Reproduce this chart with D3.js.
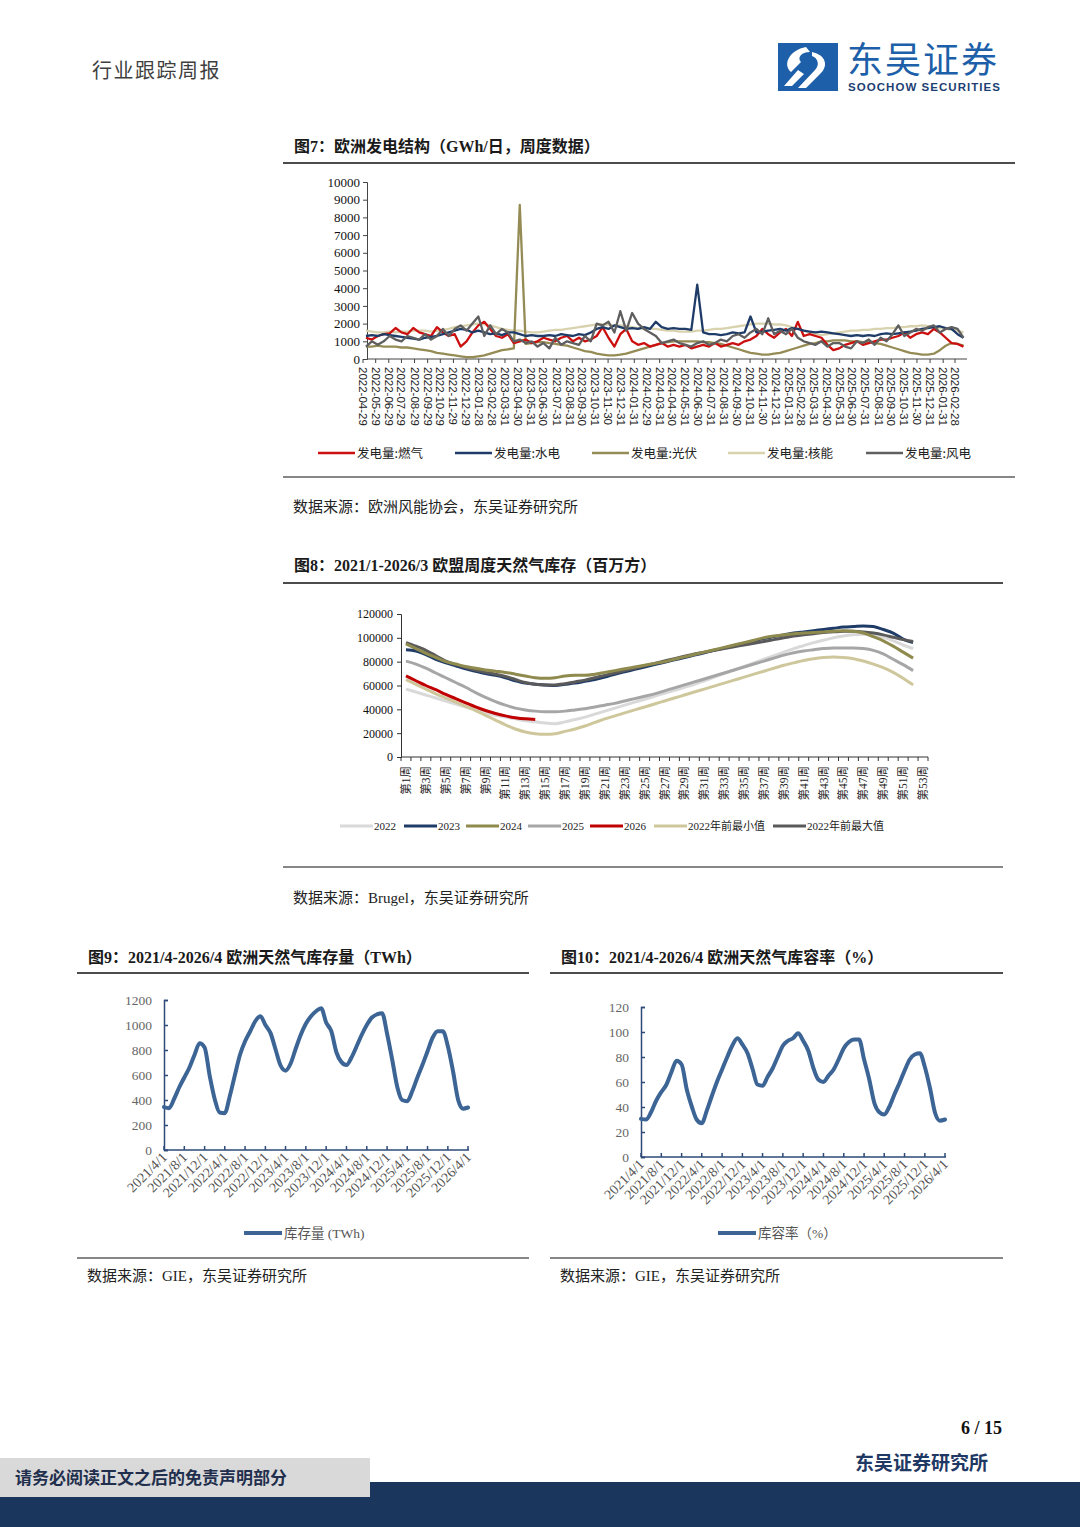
<!DOCTYPE html>
<html><head><meta charset="utf-8">
<script src="https://cdn.jsdelivr.net/npm/d3@7"></script>
<style>body{margin:0;background:#fff} svg{display:block}</style>
</head><body>
<svg id="page" width="1080" height="1527"></svg>
<script>
// ---------------- DATA ----------------
// Fig 7: European generation structure (GWh/day, weekly data), sampled every two weeks from 2022-05-06
const genStart = "2022-05-06";
const genStepDays = 14;
const gasGen = [1200,1100,1300,1400,1450, 1750,1500,1400,1750,1500, 1400,1300,1800,1500,1300, 1400,700,1000,1500,1900,
  2100,1700,1300,1200,1400, 900,1000,1100,900,1000, 1200,1100,1000,1200,1300, 1000,1200,1000,1100,1300,
  1800,1200,700,1400,1700, 1000,800,900,700,800, 900,700,800,700,800, 600,700,800,700,900,
  700,800,900,800,1000, 1100,1300,1700,1400,1200, 1500,1700,1300,2100,1300, 1400,1300,1200,800,500,
  600,800,900,1000,800, 900,1000,1100,1100,1200, 1300,1500,1200,1400,1500, 1400,1700,1500,1200,900, 850,700];
const hydroGen = [1300,1350,1300,1400,1350, 1300,1250,1200,1150,1100, 1200,1250,1300,1400,1500, 1600,1700,1650,1500,1600,
  1500,1400,1450,1350,1500, 1500,1400,1300,1350,1300, 1300,1350,1300,1400,1350, 1300,1400,1350,1500,1700,
  1800,1700,1900,1800,1700, 1750,1700,1800,1700,2100, 1800,1700,1750,1700,1700, 1650,4200,1500,1400,1400,
  1350,1400,1500,1450,1500, 2400,1500,1550,1600,1650, 1700,1600,1750,1700,1600, 1550,1500,1550,1500,1450,
  1400,1350,1300,1350,1300, 1350,1300,1400,1450,1400, 1450,1500,1550,1600,1700, 1750,1800,1850,1750,1700, 1400,1200];
const solarGen = [700,700,750,700,700, 700,650,650,600,550, 500,450,350,300,250, 200,150,100,100,150,
  200,300,400,500,550, 600,8700,850,900,950, 950,900,850,800,750, 650,550,450,400,300,
  250,200,200,250,300, 400,500,600,700,800, 900,950,1000,1000,1000, 1000,1000,950,950,900,
  850,750,650,550,450, 350,300,250,250,300, 350,450,550,650,750, 850,900,1000,1000,1050,
  1050,1050,1000,1000,950, 950,900,850,750,650, 550,450,350,300,250, 250,300,500,750,900, 850,750];
const nuclearGen = [1600,1550,1500,1500,1550, 1500,1550,1550,1600,1600, 1600,1550,1600,1650,1700, 1800,1850,1900,1950,2000,
  1950,1900,1800,1700,1650, 1600,1600,1550,1500,1500, 1550,1600,1650,1650,1700, 1750,1800,1850,1900,1950,
  1950,1950,1900,1900,1850, 1800,1750,1700,1700,1700, 1650,1600,1600,1550,1550, 1550,1600,1600,1650,1700,
  1700,1750,1800,1850,1900, 1950,2000,2000,2000,1950, 1950,1900,1800,1700,1600, 1500,1400,1350,1400,1450,
  1500,1550,1600,1600,1650, 1650,1700,1700,1750,1750, 1800,1800,1850,1850,1900, 1850,1800,1750,1700,1650, 1600,1500];
const windGen = [700,1000,800,1000,1300, 1100,1000,1300,1200,1100, 1400,1100,1300,1700,1300, 1700,1900,1600,2000,2400,
  1300,1900,1400,1700,1500, 1000,1100,900,1000,700, 900,600,1200,800,1000, 900,800,1300,1000,2000,
  1900,2100,1500,2700,1600, 2600,2000,1700,1500,1300, 900,1000,1100,900,800, 700,900,1000,800,900,
  1100,1000,1300,1400,1200, 1500,1700,1400,2300,1400, 1600,1400,1700,1200,1000, 900,800,1000,700,900,
  900,700,600,1000,900, 1100,800,1200,1000,1400, 1900,1300,1500,1700,1600, 1800,1900,1500,1700,1800, 1700,1200];
const genTickLabels = ["2022-04-29","2022-05-29","2022-06-29","2022-07-29","2022-08-29","2022-09-29","2022-10-29","2022-11-29",
  "2022-12-29","2023-01-28","2023-02-28","2023-03-31","2023-04-30","2023-05-31","2023-06-30","2023-07-31","2023-08-31",
  "2023-09-30","2023-10-31","2023-11-30","2023-12-31","2024-01-31","2024-02-29","2024-03-31","2024-04-30","2024-05-31",
  "2024-06-30","2024-07-31","2024-08-31","2024-09-30","2024-10-31","2024-11-30","2024-12-31","2025-01-31","2025-02-28",
  "2025-03-31","2025-04-30","2025-05-31","2025-06-30","2025-07-31","2025-08-31","2025-09-30","2025-10-31","2025-11-30",
  "2025-12-31","2026-01-31","2026-02-28"];
const genSeriesNames = ["发电量:燃气","发电量:水电","发电量:光伏","发电量:核能","发电量:风电"];
const genTicksY = [0,1000,2000,3000,4000,5000,6000,7000,8000,9000,10000];

// Fig 8: EU weekly gas storage (million m3), weeks 1..53
const weeks = d3.range(1, 54);
const stor2022 = [57000,54500,52000,49500,47000,44500,42000,39500,37000,35000,33500,32000,30500,29500,28500,28000,29500,31500,33500,36000,
  38500,41000,43500,46000,48500,51000,53500,56000,58500,61000,64000,67000,70000,73000,76000,79000,82000,85000,88000,91000,
  93500,96000,98000,100000,101500,102500,103000,102500,100500,97500,94000,91000];
const stor2023 = [90000,89000,86000,82000,79000,76500,74000,72000,70000,68500,66500,64000,62000,61000,60500,60000,61000,62000,63500,65000,
  67000,69500,71500,73500,75500,77500,79500,81500,83500,85500,87500,89500,91500,93500,95500,97500,99500,101000,102500,104000,
  105000,106000,107000,108000,109000,109500,110000,109500,107000,104000,99000,96000];
const stor2024 = [95000,91000,87000,83500,80000,78000,76000,74500,73000,72000,71000,69500,68000,66500,66000,66500,68000,68500,68500,69500,
  71000,72500,74000,75500,77000,78500,80000,82000,84000,86000,88000,90000,92000,94000,96000,98000,100000,101500,102500,103500,
  104000,104500,105000,105500,106000,105500,104000,101000,97500,93000,88000,83000];
const stor2025 = [80500,78000,74500,70500,66500,62500,58500,54000,50000,46500,43500,41000,39500,38500,38000,38000,38500,39500,40500,42000,
  43500,45000,47000,49000,51000,53000,55500,58000,60500,63000,65500,68000,70500,73000,75500,78000,80500,83000,85500,87500,
  89000,90000,91000,91500,91500,91500,91000,89500,86500,82000,77500,72500];
const stor2026 = [68000,64000,60000,56500,52500,49000,45500,42000,39000,36500,34500,33000,32000,31500];
const storMinPre2022 = [65000,61000,57000,53000,49500,46000,42500,39000,35000,31000,27000,23500,21000,19500,19000,19500,21500,23500,26000,29000,
  32000,34500,37000,39500,42000,44500,47000,49500,52000,54500,57000,59500,62000,64500,67000,69500,72000,74500,77000,79000,
  81000,82500,83500,84000,83500,82500,80500,78000,75000,71000,66000,60500];
const storMaxPre2022 = [96000,93000,89500,85000,80500,77500,75000,73000,71000,69500,67500,65000,62500,61000,60500,60500,61500,63000,64500,66500,
  68500,70500,72500,74500,76500,78500,80500,82500,84500,86500,88000,89500,91000,92500,94000,95500,97000,98500,100000,101500,
  102500,103500,104500,105000,105500,105500,105000,104000,102500,100500,98500,97000];
const storSeriesNames = ["2022","2023","2024","2025","2026","2022年前最小值","2022年前最大值"];
const storTicksY = [0,20000,40000,60000,80000,100000,120000];

// Fig 9 / Fig 10: European gas storage (TWh) and fill rate (%), monthly from 2021-04-01
const euStart = "2021-04-01";
const euStorageTWh = [343,335,410,500,580,660,760,855,820,590,
  400,300,295,430,600,760,870,950,1030,1070,
  1000,935,800,680,635,690,810,920,1010,1070,
  1110,1135,1020,950,780,705,680,740,830,920,
  1000,1060,1085,1095,930,720,500,400,390,470,
  580,680,790,900,950,950,830,630,400,330,340];
const euFillRate = [30.5,30,36,45,52,58,68,77,74,54,
  40,30,27,37,49,60,70,80,89,95,
  90,83,70,58,57,64,71,80,89,93,
  95,99,93,85,71,62,60,65,70,78,
  87,92,94,94,78,62,43,36,34,40,
  50,59,69,78,82,83,72,55,35,29,30];
const euTickLabels = ["2021/4/1","2021/8/1","2021/12/1","2022/4/1","2022/8/1","2022/12/1","2023/4/1","2023/8/1",
  "2023/12/1","2024/4/1","2024/8/1","2024/12/1","2025/4/1","2025/8/1","2025/12/1","2026/4/1"];
const twhTicksY = [0,200,400,600,800,1000,1200];
const pctTicksY = [0,20,40,60,80,100,120];

// ---------------- DRAW ----------------
const svg = d3.select("#page");
const CJK = "'Noto Sans CJK SC','Noto Sans',sans-serif";
const SERIF = "'Liberation Serif','Times New Roman','Noto Sans CJK SC',serif";
const parseD = d3.timeParse("%Y-%m-%d");
const parseS = d3.timeParse("%Y/%m/%d");

// Header
svg.append("text").attr("x", 92).attr("y", 78).attr("font-family", CJK).attr("font-size", 20)
  .attr("fill", "#3f3f3f").attr("letter-spacing", 1.5).text("行业跟踪周报");
// Logo
const logo = svg.append("g");
logo.append("rect").attr("x", 778).attr("y", 43).attr("width", 60).attr("height", 48).attr("fill", "#1d5fa8");
logo.append("path").attr("d", "M806,47 C790,50 782,64 791,72 L801,62 C797,58 801,52 810,52 Z").attr("fill", "#fff");
logo.append("path").attr("d", "M812,52 C826,55 829,66 820,74 L806,88 L798,88 L815,70 C820,65 818,58 812,56 Z").attr("fill", "#fff");
logo.append("path").attr("d", "M798,70 L784,86 L792,86 L804,74 Z").attr("fill", "#fff");
svg.append("text").attr("x", 847).attr("y", 73).attr("font-family", CJK).attr("font-size", 36)
  .attr("fill", "#1d5fa8").attr("letter-spacing", 2).text("东吴证券");
svg.append("text").attr("x", 848).attr("y", 91).attr("font-family", "'Liberation Sans',Arial,sans-serif")
  .attr("font-size", 11.5).attr("font-weight", "bold").attr("fill", "#1d3f73").attr("textLength", 152)
  .text("SOOCHOW SECURITIES");

function frame(x0, x1, titleY, topY, botY, srcY, title, source) {
  svg.append("text").attr("x", x0 + 11).attr("y", titleY + 6).attr("font-family", SERIF).attr("font-weight", "bold")
    .attr("font-size", 16).attr("fill", "#1a1a1a").text(title);
  svg.append("line").attr("x1", x0).attr("x2", x1).attr("y1", topY).attr("y2", topY).attr("stroke", "#111").attr("stroke-width", 1.5);
  svg.append("line").attr("x1", x0).attr("x2", x1).attr("y1", botY).attr("y2", botY).attr("stroke", "#111").attr("stroke-width", 1.2);
  svg.append("text").attr("x", x0 + 10).attr("y", srcY + 6).attr("font-family", SERIF)
    .attr("font-size", 15).attr("fill", "#222").text(source);
}
frame(283, 1015, 146, 163, 477, 506, "图7：欧洲发电结构（GWh/日，周度数据）", "数据来源：欧洲风能协会，东吴证券研究所");
frame(283, 1003, 565, 583, 867, 897, "图8：2021/1-2026/3 欧盟周度天然气库存（百万方）", "数据来源：Brugel，东吴证券研究所");
frame(77, 529, 957, 973, 1258, 1275, "图9：2021/4-2026/4 欧洲天然气库存量（TWh）", "数据来源：GIE，东吴证券研究所");
frame(550, 1003, 957, 973, 1258, 1275, "图10：2021/4-2026/4 欧洲天然气库容率（%）", "数据来源：GIE，东吴证券研究所");

// ---------- Fig 7 ----------
{
  const g = svg.append("g");
  const x = d3.scaleTime().domain([parseD("2022-04-29"), parseD("2026-02-28")]).range([363, 955]);
  const y = d3.scaleLinear().domain([0, 10000]).range([359, 182]);
  const start = parseD(genStart);
  const dates = gasGen.map((_, i) => d3.timeDay.offset(start, genStepDays * i));
  const yAxis = g.append("g").attr("transform", "translate(367,0)")
    .call(d3.axisLeft(y).tickValues(genTicksY).tickSize(4).tickPadding(3).tickFormat(d3.format("d")));
  yAxis.select(".domain").attr("stroke", "#444");
  yAxis.selectAll(".tick line").attr("stroke", "#444");
  yAxis.selectAll("text").attr("font-family", SERIF).attr("font-size", 13).attr("fill", "#111");
  g.append("line").attr("x1", 367).attr("x2", 967).attr("y1", 359).attr("y2", 359).attr("stroke", "#444");
  const tickDates = genTickLabels.map(parseD);
  g.selectAll(".xt").data(tickDates).join("line").attr("x1", d => x(d)).attr("x2", d => x(d))
    .attr("y1", 359).attr("y2", 363).attr("stroke", "#444");
  g.selectAll(".xl").data(genTickLabels).join("text")
    .attr("transform", d => `translate(${x(parseD(d)) - 4},367) rotate(90)`)
    .attr("font-family", "'Liberation Sans',Arial,sans-serif").attr("font-size", 11.5).attr("fill", "#222")
    .text(d => d);
  const series = [
    { v: windGen, c: "#5f5f5f" },
    { v: nuclearGen, c: "#d8d2ae" },
    { v: solarGen, c: "#958c55" },
    { v: hydroGen, c: "#1f3c68" },
    { v: gasGen, c: "#cc1010" }
  ];
  const line = d3.line().x((d, i) => x(dates[i])).y(d => y(d));
  [series[1], series[2], series[4], series[3], series[0]].forEach(s => {
    g.append("path").attr("d", line(s.v)).attr("fill", "none").attr("stroke", s.c).attr("stroke-width", 2.3)
      .attr("stroke-linejoin", "round");
  });
  const legCols = ["#cc1010", "#1f3c68", "#958c55", "#d8d2ae", "#5f5f5f"];
  const legX = [318, 455, 592, 728, 866];
  genSeriesNames.forEach((n, i) => {
    g.append("line").attr("x1", legX[i]).attr("x2", legX[i] + 37).attr("y1", 453).attr("y2", 453)
      .attr("stroke", legCols[i]).attr("stroke-width", 2.5);
    g.append("text").attr("x", legX[i] + 39).attr("y", 458).attr("font-family", CJK).attr("font-size", 12.5)
      .attr("fill", "#222").text(n);
  });
}

// ---------- Fig 8 ----------
{
  const g = svg.append("g");
  const x = d3.scaleBand().domain(weeks).range([401, 928]);
  const y = d3.scaleLinear().domain([0, 120000]).range([757, 614]);
  const yAxis = g.append("g").attr("transform", "translate(401,0)")
    .call(d3.axisLeft(y).tickValues(storTicksY).tickSize(4).tickPadding(4).tickFormat(d3.format("d")));
  yAxis.select(".domain").attr("stroke", "#333");
  yAxis.selectAll(".tick line").attr("stroke", "#333");
  yAxis.selectAll("text").attr("font-family", SERIF).attr("font-size", 12).attr("fill", "#111");
  g.append("line").attr("x1", 401).attr("x2", 928).attr("y1", 757).attr("y2", 757).attr("stroke", "#333");
  g.selectAll(".xt").data(d3.range(0, 54)).join("line")
    .attr("x1", i => 401 + i * x.step()).attr("x2", i => 401 + i * x.step())
    .attr("y1", 757).attr("y2", 761).attr("stroke", "#333");
  g.selectAll(".xl").data(weeks.filter(w => w % 2 === 1)).join("text")
    .attr("transform", w => `translate(${x(w) + x.bandwidth() / 2 + 4},766) rotate(-90)`)
    .attr("text-anchor", "end").attr("font-family", SERIF).attr("font-size", 11.5).attr("fill", "#222")
    .text(w => `第${w}周`);
  const cols = ["#d9d9d9", "#1f3c68", "#8f8a4e", "#a6a6a6", "#c00000", "#cfc79c", "#5a5a5a"];
  const data = [stor2022, stor2023, stor2024, stor2025, stor2026, storMinPre2022, storMaxPre2022];
  const line = d3.line().x((d, i) => x(weeks[i]) + x.bandwidth() / 2).y(d => y(d)).curve(d3.curveMonotoneX);
  [0, 5, 3, 1, 6, 2, 4].forEach(k => {
    g.append("path").attr("d", line(data[k])).attr("fill", "none").attr("stroke", cols[k]).attr("stroke-width", 3)
      .attr("stroke-linejoin", "round");
  });
  const legX = [340, 404, 466, 528, 590, 654, 773];
  storSeriesNames.forEach((n, i) => {
    g.append("line").attr("x1", legX[i]).attr("x2", legX[i] + 33).attr("y1", 826).attr("y2", 826)
      .attr("stroke", cols[i]).attr("stroke-width", 3);
    g.append("text").attr("x", legX[i] + 34).attr("y", 830).attr("font-family", SERIF).attr("font-size", 11)
      .attr("fill", "#222").text(n);
  });
}

// ---------- Fig 9 & Fig 10 ----------
function euChart(x0, x1, yTop, yBot, ymax, ticks, values, legX, legText) {
  const g = svg.append("g");
  const axisCol = "#2d4a78";
  const start = parseD(euStart);
  const dates = values.map((_, i) => d3.timeMonth.offset(start, i));
  const x = d3.scaleTime().domain([parseS("2021/4/1"), parseS("2026/4/1")]).range([x0, x1]);
  const y = d3.scaleLinear().domain([0, ymax]).range([yBot, yTop]);
  const yAxis = g.append("g").attr("transform", `translate(${x0},0)`)
    .call(d3.axisLeft(y).tickValues(ticks).tickSize(-4).tickPadding(12).tickFormat(d3.format("d")));
  yAxis.select(".domain").attr("stroke", axisCol).attr("stroke-width", 1.5);
  yAxis.selectAll(".tick line").attr("stroke", axisCol).attr("stroke-width", 1.5);
  yAxis.selectAll("text").attr("font-family", SERIF).attr("font-size", 13.5).attr("fill", "#666");
  g.append("line").attr("x1", x0).attr("x2", x1 + 1).attr("y1", yBot).attr("y2", yBot).attr("stroke", axisCol).attr("stroke-width", 1.5);
  const tds = euTickLabels.map(parseS);
  g.selectAll(".xt").data(tds).join("line").attr("x1", d => x(d)).attr("x2", d => x(d))
    .attr("y1", yBot).attr("y2", yBot - 4).attr("stroke", axisCol).attr("stroke-width", 1.5);
  g.selectAll(".xl").data(euTickLabels).join("text")
    .attr("transform", d => `translate(${x(parseS(d)) + 4},${yBot + 8}) rotate(-45)`)
    .attr("text-anchor", "end").attr("font-family", SERIF).attr("font-size", 14).attr("fill", "#555")
    .text(d => d);
  const line = d3.line().x((d, i) => x(dates[i])).y(d => y(d)).curve(d3.curveMonotoneX);
  g.append("path").attr("d", line(values)).attr("fill", "none").attr("stroke", "#3c6596").attr("stroke-width", 4)
    .attr("stroke-linejoin", "round").attr("stroke-linecap", "round");
  g.append("line").attr("x1", legX).attr("x2", legX + 38).attr("y1", 1233).attr("y2", 1233)
    .attr("stroke", "#3c6596").attr("stroke-width", 4);
  g.append("text").attr("x", legX + 40).attr("y", 1238).attr("font-family", SERIF).attr("font-size", 13.5)
    .attr("fill", "#555").text(legText);
}
euChart(164, 468, 1000, 1150, 1200, twhTicksY, euStorageTWh, 244, "库存量 (TWh)");
euChart(641, 945, 1007, 1157, 120, pctTicksY, euFillRate, 718, "库容率（%）");

// Footer
svg.append("text").attr("x", 1002).attr("y", 1434).attr("text-anchor", "end").attr("font-family", SERIF)
  .attr("font-weight", "bold").attr("font-size", 18).attr("fill", "#111").text("6 / 15");
svg.append("text").attr("x", 988).attr("y", 1470).attr("text-anchor", "end").attr("font-family", CJK)
  .attr("font-weight", "bold").attr("font-size", 19).attr("fill", "#1f3864").text("东吴证券研究所");
svg.append("rect").attr("x", 0).attr("y", 1482).attr("width", 1080).attr("height", 45).attr("fill", "#1b365d");
svg.append("rect").attr("x", 0).attr("y", 1458).attr("width", 370).attr("height", 39).attr("fill", "#d9d9d9");
svg.append("text").attr("x", 15).attr("y", 1484).attr("font-family", CJK).attr("font-weight", "bold")
  .attr("font-size", 17).attr("fill", "#1f2f4d").text("请务必阅读正文之后的免责声明部分");
</script></body></html>
